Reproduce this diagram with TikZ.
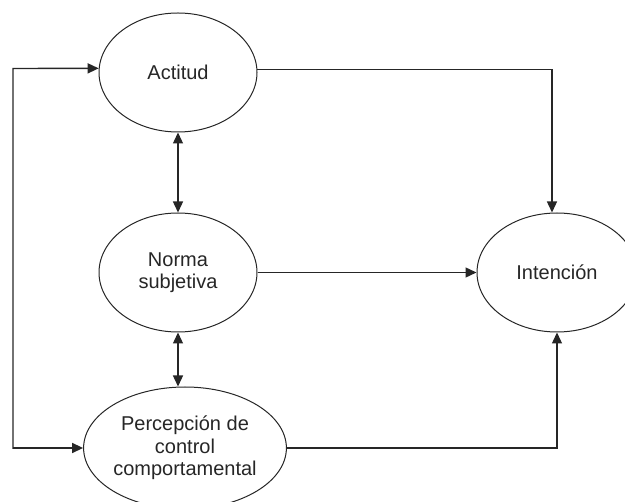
\documentclass[tikz,border=0pt]{standalone}
\usepackage{fontspec}
\setmainfont{Liberation Sans}
\usetikzlibrary{shapes.geometric,arrows.meta,calc}
\begin{document}
\begin{tikzpicture}[x=1pt,y=-1pt,
  oval/.style={draw=black!85,line width=1pt,ellipse,inner sep=0pt,align=center,
    font=\fontsize{20}{22.5}\selectfont,text=black!85},
  conn/.style={draw=black!85,line width=1.4pt,-{Triangle[length=11pt,width=10pt]}},
  dconn/.style={draw=black!85,line width=1.4pt,{Triangle[length=11pt,width=10pt]}-{Triangle[length=11pt,width=10pt]}}]
\clip (0,0) rectangle (625,502);
\node[oval,minimum width=158pt,minimum height=119pt] (A) at (178,72.5) {Actitud};
\node[oval,minimum width=158pt,minimum height=119pt] (N) at (178,272.5) {Norma\\subjetiva};
\node[oval,minimum width=190pt,minimum height=122pt] (P) at (185,448) {Percepción de\\control\\comportamental};
\node[oval,minimum width=160pt,minimum height=119pt] (I) at (557,272.5) {Intención};
\coordinate (lt) at (13,68.5);
\coordinate (lb) at (13,449);
\draw[conn] (lb) -- (lt) -- (A.177);
\draw[conn] (lt |- P.west) -- (P.west);
\draw[conn] (A.2) -| ($(I.north)+(-5,0)$);
\draw[conn] (N.east) -- (I.west);
\draw[conn] (P.east) -| (I.south);
\draw[dconn] (A.south) -- (N.north);
\draw[dconn] (N.south) -- (P.north -| N.south);
\end{tikzpicture}
\end{document}
